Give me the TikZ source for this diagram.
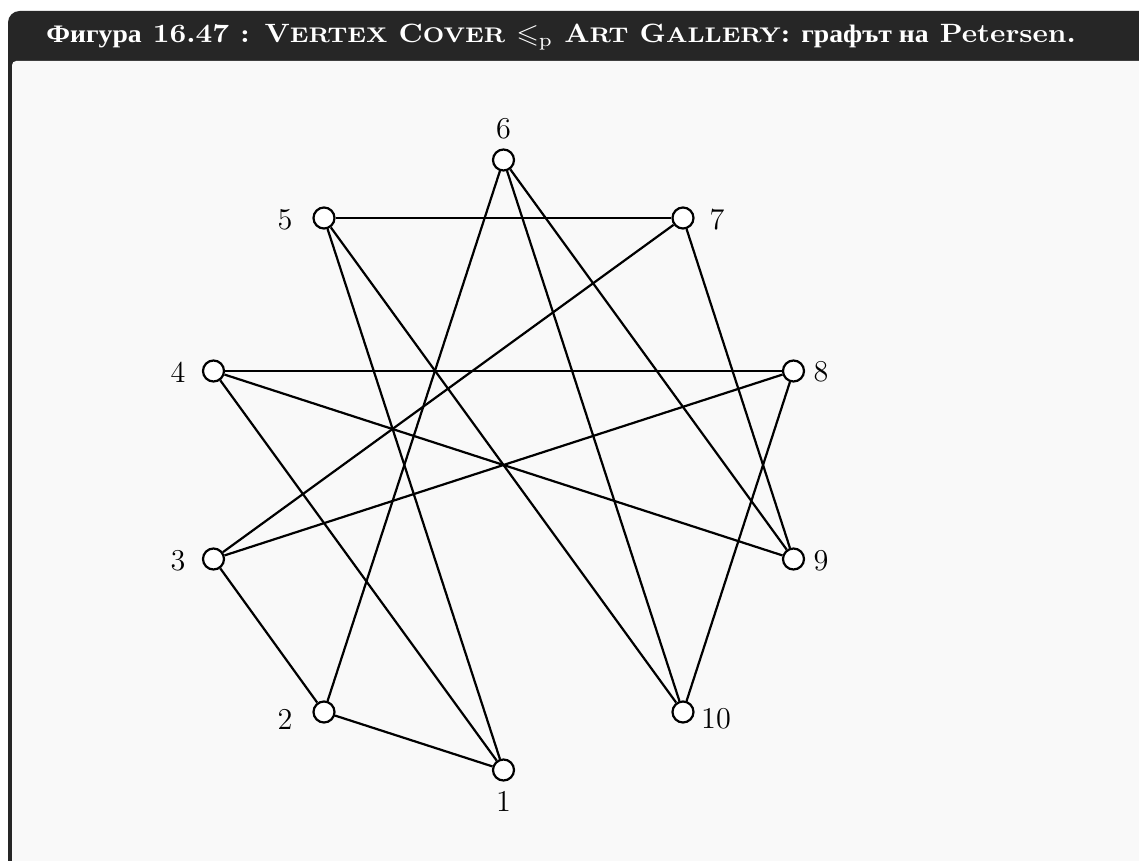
\documentclass[tikz,border=0pt]{standalone}
\usepackage{amsmath,amssymb}
\usepackage{xcolor}
\usepackage{graphicx}
\usepackage{fontspec}
\newfontfamily\cyrfont[Scale=0.95]{Liberation Serif}
\definecolor{headgray}{RGB}{38,38,38}
\definecolor{bodygray}{RGB}{249,249,249}
\newcommand{\smcaps}[1]{{\fontsize{8}{9}\selectfont\bfseries #1}}

\begin{document}
\begin{tikzpicture}[x=0.476pt,y=-0.476pt,
  vertex/.style={circle,draw,line width=1.05pt,fill=white,minimum size=10pt,inner sep=0pt},
  edge/.style={line width=1.05pt},
  vlabel/.style={font=\Large,inner sep=0pt}]
  \useasboundingbox (0,0) rectangle (1139,861);
  \fill[white] (0,0) rectangle (1139,861);
  % frame and title bar
  \fill[headgray,rounded corners=5.5pt] (8,11) rectangle (1180,890);
  \fill[bodygray,rounded corners=2pt] (12,61) rectangle (1176,886);
  \node[anchor=base west,text=white,inner sep=0pt] (title) at (46,43)
    {\resizebox{490pt}{8.8pt}{\bfseries{\cyrfont\bfseries Фигура} 16.47 : V\smcaps{ERTEX} C\smcaps{OVER} $\leqslant_{\mathrm{p}}$ A\smcaps{RT} G\smcaps{ALLERY}: {\cyrfont\bfseries графът на} Petersen.}};

  % vertices
  \node[vertex] (v1) at (503.5,770) {};
  \node[vertex] (v2) at (324,712) {};
  \node[vertex] (v3) at (213.5,559) {};
  \node[vertex] (v4) at (213.5,371) {};
  \node[vertex] (v5) at (324,218) {};
  \node[vertex] (v6) at (503.5,160) {};
  \node[vertex] (v7) at (683,218) {};
  \node[vertex] (v8) at (793.5,371) {};
  \node[vertex] (v9) at (793.5,559) {};
  \node[vertex] (v10) at (683,712) {};

  % labels
  \node[vlabel] (n1) at (503.5,801) {1};
  \node[vlabel] (n2) at (285,719) {2};
  \node[vlabel] (n3) at (178,561) {3};
  \node[vlabel] (n4) at (178,372) {4};
  \node[vlabel] (n5) at (285,220) {5};
  \node[vlabel] (n6) at (503.5,129) {6};
  \node[vlabel] (n7) at (717,220) {7};
  \node[vlabel] (n8) at (821,372) {8};
  \node[vlabel] (n9) at (821,561) {9};
  \node[vlabel] (n10) at (716,719) {10};

  % edges
  \draw[edge] (v1) -- (v2);
  \draw[edge] (v1) -- (v4);
  \draw[edge] (v1) -- (v5);
  \draw[edge] (v2) -- (v3);
  \draw[edge] (v2) -- (v6);
  \draw[edge] (v3) -- (v7);
  \draw[edge] (v3) -- (v8);
  \draw[edge] (v4) -- (v8);
  \draw[edge] (v4) -- (v9);
  \draw[edge] (v5) -- (v7);
  \draw[edge] (v5) -- (v10);
  \draw[edge] (v6) -- (v9);
  \draw[edge] (v6) -- (v10);
  \draw[edge] (v7) -- (v9);
  \draw[edge] (v8) -- (v10);
\end{tikzpicture}
\end{document}
